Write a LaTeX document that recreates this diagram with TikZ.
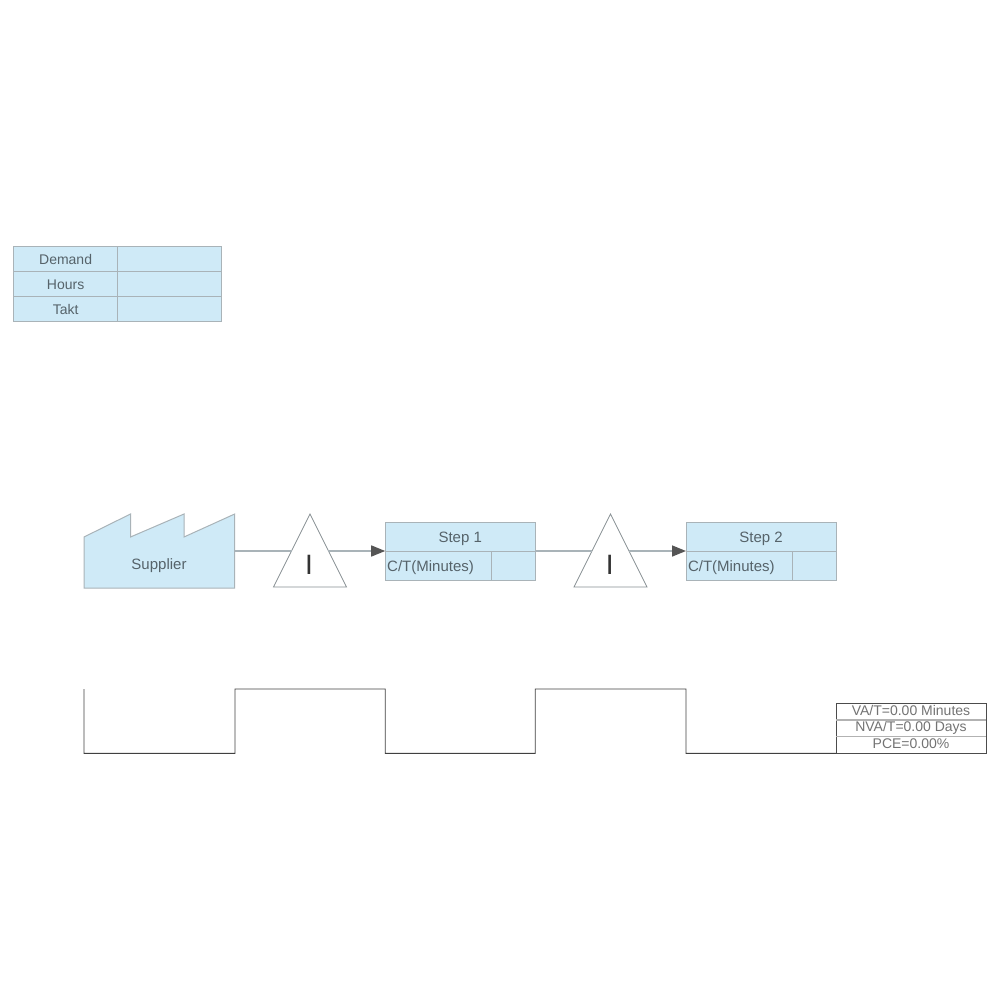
\documentclass[tikz,border=0pt]{standalone}
\usepackage{fontspec}
\setmainfont{Liberation Sans}
\usetikzlibrary{arrows.meta,shapes.geometric}
\definecolor{boxblue}{HTML}{CFEAF7}
\definecolor{boxline}{HTML}{A9B3B8}
\definecolor{boxtext}{HTML}{56636A}
\definecolor{tipgray}{HTML}{555555}
\begin{document}
\begin{tikzpicture}[x=1pt,y=-1pt,font=\fontsize{14}{16}\selectfont]
	\tikzstyle{cell}=[rectangle,draw=boxline,fill=boxblue,text=boxtext,line width=1pt,inner sep=0pt,outer sep=0pt,minimum height=25pt,text height=10pt,text depth=0pt]
	\tikzstyle{stepcell}=[cell,minimum height=29pt,text height=11pt,font=\fontsize{15}{17}\selectfont]
	\tikzstyle{inventory}=[isosceles triangle,isosceles triangle apex angle=53.13,shape border rotate=90,draw=boxline!80!black,fill=white,line width=0.8pt,inner sep=0pt,outer sep=0pt,minimum height=73pt]
	\tikzstyle{invmark}=[text=black!80,inner sep=0pt,font=\fontsize{28}{30}\selectfont]
	\tikzstyle{sumcell}=[rectangle,draw=black!70,text=black!55,line width=0.8pt,inner sep=0pt,outer sep=0pt,minimum width=150pt,minimum height=16.7pt,text height=7pt,text depth=0pt]
	\tikzstyle{edge}=[draw=boxline,line width=1.5pt]
	\tikzstyle{flow}=[edge,-{Triangle[length=14pt,width=11pt,color=tipgray]}]
	\tikzstyle{rowline}=[draw=black!30,line width=1.2pt]

	\useasboundingbox (0,0) rectangle (1000,1000);

	% takt table
	\node [cell,minimum width=103.8pt] (demand) at (65.6,259.2) {Demand};
	\node [cell,minimum width=103.8pt] (hours) at (65.6,284.3) {Hours};
	\node [cell,minimum width=103.8pt] (takt) at (65.6,309.3) {Takt};
	\node [cell,minimum width=104.2pt] (demandval) at (169.6,259.2) {};
	\node [cell,minimum width=104.2pt] (hoursval) at (169.6,284.3) {};
	\node [cell,minimum width=104.2pt] (taktval) at (169.6,309.3) {};

	% supplier
	\draw [draw=boxline,fill=boxblue,line width=1pt] (84,588) -- (84,537) -- (130.5,514) -- (130.5,537) -- (184,514) -- (184,537) -- (234.7,514) -- (234.7,588) -- cycle;
	\node [text=boxtext,inner sep=0pt,text height=11pt,text depth=0pt,font=\fontsize{15}{17}\selectfont] (supplier) at (159,563.5) {Supplier};
	\coordinate (supplierout) at (234.7,551);

	% steps
	\node [stepcell,minimum width=150pt] (step1) at (460.2,536.5) {Step 1};
	\node [stepcell,minimum width=106pt,text width=102pt,align=left] (ct1) at (438.2,565.5) {C/T(Minutes)};
	\node [stepcell,minimum width=44pt] (ctval1) at (513.2,565.5) {};
	\node [stepcell,minimum width=150pt] (step2) at (761,536.5) {Step 2};
	\node [stepcell,minimum width=106pt,text width=102pt,align=left] (ct2) at (739,565.5) {C/T(Minutes)};
	\node [stepcell,minimum width=44pt] (ctval2) at (814,565.5) {};

	% inventory
	\node [inventory] (inv1) at (310,564.5) {};
	\node [inventory] (inv2) at (610.5,564.5) {};
	\node [invmark] (inv1mark) at (309,565) {I};
	\node [invmark] (inv2mark) at (609.7,565) {I};

	\path (supplierout) edge[edge] (inv1.left side |- supplierout);
	\path (inv1.right side |- step1.south west) edge[flow] (step1.south west);
	\path (step1.south east) edge[edge] (inv2.left side |- step1.south east);
	\path (inv2.right side |- step2.south west) edge[flow] (step2.south west);

	% timeline
	\coordinate (linestart) at (84,689);
	\node [sumcell] (vat) at (911,711.6) {VA/T=0.00 Minutes};
	\node [sumcell] (nvat) at (911,728.3) {NVA/T=0.00 Days};
	\node [sumcell] (pce) at (911,745) {PCE=0.00\%};
	\path (vat.south west) edge[rowline] (vat.south east);
	\path (nvat.south west) edge[rowline] (nvat.south east);
	\draw [draw=black!75,line width=0.8pt] (linestart) -- (84,753.35) -- (235,753.35) -- (235,689) -- (385.3,689) -- (385.3,753.35) -- (535.3,753.35) -- (535.3,689) -- (686,689) -- (686,753.35) -- (pce.south west);
\end{tikzpicture}
\end{document}
